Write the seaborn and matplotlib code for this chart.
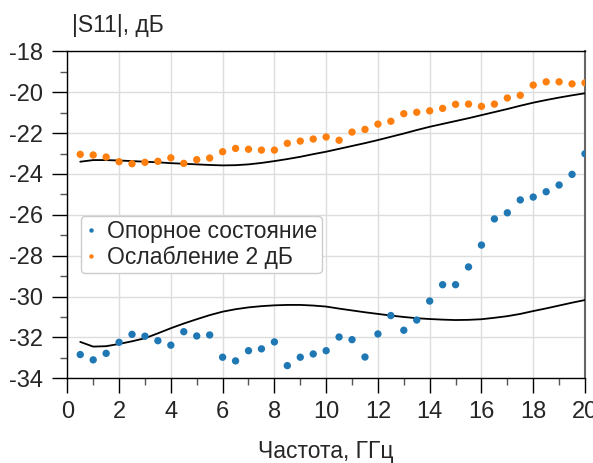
import numpy as np
import pandas as pd
import matplotlib
matplotlib.use("Agg")
import matplotlib.pyplot as plt
import seaborn as sns

# Frequency grid, GHz
freq = [0.5, 1.0, 1.5, 2.0, 2.5, 3.0, 3.5, 4.0, 4.5, 5.0,
        5.5, 6.0, 6.5, 7.0, 7.5, 8.0, 8.5, 9.0, 9.5, 10.0,
        10.5, 11.0, 11.5, 12.0, 12.5, 13.0, 13.5, 14.0, 14.5, 15.0,
        15.5, 16.0, 16.5, 17.0, 17.5, 18.0, 18.5, 19.0, 19.5, 20.0]

# Measured |S11|, dB
s11_ref = [-32.84, -33.10, -32.78, -32.24, -31.85, -31.94, -32.16, -32.38, -31.72, -31.93,
           -31.88, -32.97, -33.15, -32.65, -32.56, -32.22, -33.38, -32.97, -32.81, -32.65,
           -31.98, -32.11, -32.96, -31.83, -30.93, -31.65, -31.15, -30.22, -29.42, -29.42,
           -28.55, -27.48, -26.20, -25.90, -25.27, -25.13, -24.87, -24.54, -24.02, -23.01]
s11_att2 = [-23.04, -23.07, -23.17, -23.40, -23.50, -23.43, -23.38, -23.21, -23.48, -23.30,
            -23.22, -22.91, -22.75, -22.79, -22.83, -22.83, -22.50, -22.39, -22.29, -22.19,
            -22.35, -21.95, -21.82, -21.56, -21.42, -21.05, -20.98, -20.91, -20.79, -20.59,
            -20.58, -20.69, -20.58, -20.28, -20.15, -19.65, -19.49, -19.49, -19.59, -19.54]

# Simulated |S11|, dB
sim_ref = [-32.22, -32.45, -32.43, -32.32, -32.19, -32.04, -31.80, -31.55, -31.32, -31.11,
           -30.91, -30.74, -30.62, -30.53, -30.47, -30.43, -30.41, -30.41, -30.44, -30.49,
           -30.59, -30.68, -30.77, -30.85, -30.93, -31.00, -31.06, -31.10, -31.13, -31.15,
           -31.14, -31.11, -31.04, -30.96, -30.85, -30.71, -30.58, -30.44, -30.30, -30.17]
sim_att2 = [-23.40, -23.32, -23.32, -23.34, -23.37, -23.40, -23.43, -23.47, -23.50, -23.53,
            -23.56, -23.58, -23.57, -23.53, -23.46, -23.37, -23.27, -23.16, -23.03, -22.91,
            -22.77, -22.63, -22.49, -22.34, -22.18, -22.02, -21.85, -21.69, -21.55, -21.41,
            -21.27, -21.12, -20.97, -20.82, -20.66, -20.51, -20.38, -20.26, -20.15, -20.05]

labels = ["Опорное состояние", "Ослабление 2 дБ"]
colors = ["#1f77b4", "#ff7f0e"]

meas = pd.DataFrame({
    "f": freq * 2,
    "s11": s11_ref + s11_att2,
    "state": [labels[0]] * len(freq) + [labels[1]] * len(freq),
})
sim = pd.DataFrame({
    "f": freq * 2,
    "s11": sim_ref + sim_att2,
    "state": ["ref"] * len(freq) + ["att"] * len(freq),
})

sns.set_style("white")
plt.rcParams["font.family"] = ["Liberation Sans", "DejaVu Sans"]
plt.rcParams["axes.unicode_minus"] = False

fig = plt.figure(figsize=(5.93, 4.63), dpi=100)
ax = fig.add_axes([0.1135, 0.183, 0.873, 0.706])

sns.lineplot(data=sim, x="f", y="s11", units="state", estimator=None,
             sort=False, color="black", linewidth=1.3, ax=ax, zorder=3)
sns.scatterplot(data=meas, x="f", y="s11", hue="state", palette=colors,
                s=28, edgecolor="none", linewidth=0, ax=ax, zorder=4)

ax.set_xlim(0, 20)
ax.set_ylim(-34, -18)
ax.set_xticks(np.arange(0, 21, 2))
ax.set_xticks(np.arange(1, 20, 2), minor=True)
ax.set_yticks(np.arange(-34, -17, 2))
ax.set_yticks(np.arange(-33, -18, 2), minor=True)
ax.tick_params(axis="both", which="major", direction="out", length=10.5,
               width=1, color="black", labelsize=17, pad=6,
               bottom=True, left=True)
ax.tick_params(axis="y", which="major", pad=7)
ax.tick_params(axis="both", which="minor", direction="out", length=5,
               width=1, color="#555555", bottom=True, left=True)
ax.grid(True, which="major", color="#dddddd", linewidth=1)
ax.set_axisbelow(True)

for side in ["left", "top", "bottom"]:
    ax.spines[side].set_color("black")
    ax.spines[side].set_linewidth(1)
ax.spines["right"].set_color("#666666")
ax.spines["right"].set_linewidth(1.5)

ax.set_xlabel("Частота, ГГц", fontsize=16.5, labelpad=12)
ax.set_ylabel("")
fig.text(72 / 593, 1 - 32 / 463, "|S11|, дБ", fontsize=16.5,
         ha="left", va="baseline")

leg = ax.legend(loc="upper left", bbox_to_anchor=(0.026, 0.497),
                borderaxespad=0, fontsize=16.5, markerscale=0.6,
                handletextpad=0.45, handlelength=0.5, labelspacing=0.1,
                borderpad=0.2, frameon=True, fancybox=True, title=None)
leg.get_frame().set_edgecolor("#cccccc")
leg.get_frame().set_linewidth(1)
leg.get_frame().set_alpha(1)

fig.savefig("out.png", dpi=100)
